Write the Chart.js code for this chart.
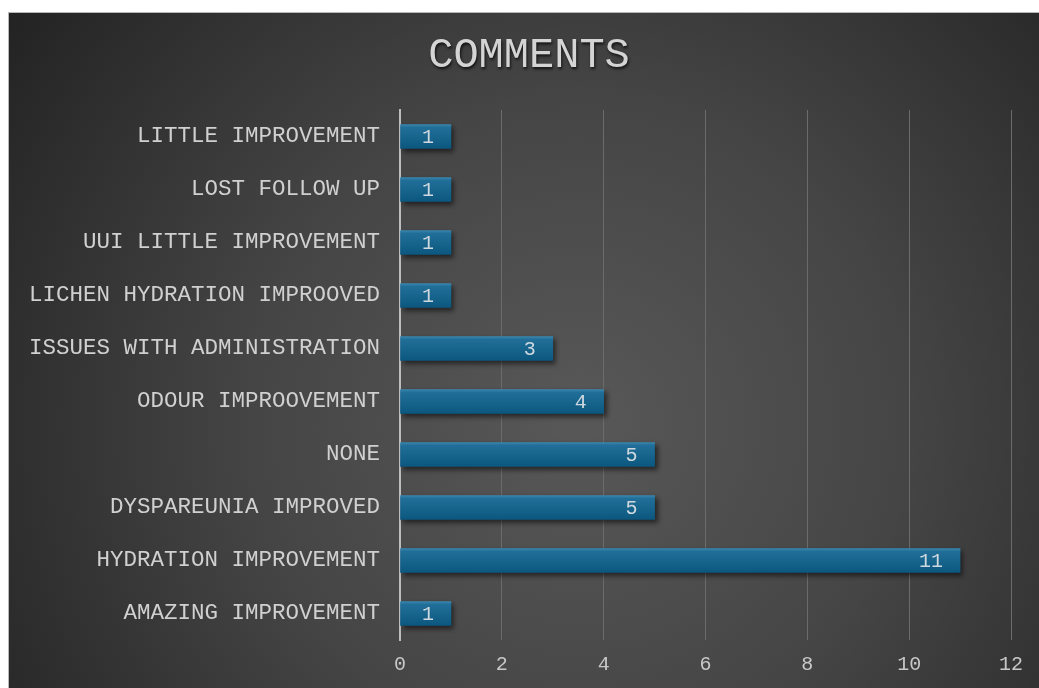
<!DOCTYPE html>
<html>
<head>
<meta charset="utf-8">
<script src="https://cdn.jsdelivr.net/npm/chart.js@4.4.1/dist/chart.umd.min.js"></script>
<style>
  html, body { margin: 0; padding: 0; background: #fff; }
  #wrap {
    position: absolute; left: 8px; top: 12px;
    width: 1031px; height: 676px;
    border-top: 1px solid #b8b8b8; border-left: 1px solid #b8b8b8;
    box-sizing: border-box;
  }
</style>
</head>
<body>
<div id="wrap"><canvas id="commentsChart"></canvas></div>
<script>
// data (top to bottom)
const categories = [
  'LITTLE IMPROVEMENT',
  'LOST FOLLOW UP',
  'UUI LITTLE IMPROVEMENT',
  'LICHEN HYDRATION IMPROOVED',
  'ISSUES WITH ADMINISTRATION',
  'ODOUR IMPROOVEMENT',
  'NONE',
  'DYSPAREUNIA IMPROVED',
  'HYDRATION IMPROVEMENT',
  'AMAZING IMPROVEMENT'
];
const counts = [1, 1, 1, 1, 3, 4, 5, 5, 11, 1];
const titleText = 'COMMENTS';

const MONO = '"Liberation Mono", "Courier New", monospace';
const BAR_H = 24;

// dark radial background + title
const backdrop = {
  id: 'backdrop',
  beforeDraw(chart) {
    const { ctx, width, height } = chart;
    ctx.save();
    const g = ctx.createRadialGradient(570, 410, 20, 570, 410, 700);
    g.addColorStop(0, '#575757');
    g.addColorStop(0.45, '#454545');
    g.addColorStop(1, '#232323');
    ctx.fillStyle = g;
    ctx.fillRect(0, 0, width, height);

    ctx.font = '42px ' + MONO;
    ctx.textAlign = 'center';
    ctx.textBaseline = 'middle';
    ctx.shadowColor = 'rgba(0,0,0,0.75)';
    ctx.shadowOffsetX = 1;
    ctx.shadowOffsetY = 2;
    ctx.shadowBlur = 3;
    ctx.fillStyle = '#d4d4d4';
    ctx.fillText(titleText, 520, 43);
    ctx.restore();
  }
};

// soft shadow under the bars
const barShadow = {
  id: 'barShadow',
  beforeDatasetsDraw(chart) {
    const ctx = chart.ctx;
    ctx.save();
    ctx.shadowColor = 'rgba(0,0,0,0.55)';
    ctx.shadowOffsetX = 3;
    ctx.shadowOffsetY = 3;
    ctx.shadowBlur = 5;
  },
  afterDatasetsDraw(chart) {
    chart.ctx.restore();
  }
};

// value labels inside the end of each bar
const valueLabels = {
  id: 'valueLabels',
  afterDraw(chart) {
    const ctx = chart.ctx;
    const meta = chart.getDatasetMeta(0);
    ctx.save();
    ctx.font = '20px ' + MONO;
    ctx.textAlign = 'right';
    ctx.textBaseline = 'middle';
    ctx.fillStyle = '#cfd8de';
    meta.data.forEach((bar, i) => {
      ctx.fillText(String(counts[i]), bar.x - 17, bar.y + 1);
    });
    ctx.restore();
  }
};

function barFill(c) {
  const chart = c.chart;
  const y = chart.scales.y ? chart.scales.y.getPixelForValue(c.dataIndex) : null;
  if (y == null || isNaN(y)) return '#15648c';
  const g = chart.ctx.createLinearGradient(0, y - BAR_H / 2, 0, y + BAR_H / 2);
  g.addColorStop(0, '#3987b0');
  g.addColorStop(0.12, '#216f98');
  g.addColorStop(1, '#0b5780');
  return g;
}

new Chart(document.getElementById('commentsChart'), {
  type: 'bar',
  data: {
    labels: categories,
    datasets: [{
      label: 'Comments',
      data: counts,
      backgroundColor: barFill,
      borderWidth: 0,
      barThickness: BAR_H
    }]
  },
  options: {
    indexAxis: 'y',
    responsive: true,
    maintainAspectRatio: false,
    animation: false,
    layout: { padding: { top: 97, right: 28, bottom: 11, left: 0 } },
    scales: {
      x: {
        min: 0,
        max: 12,
        afterFit(scale) { scale.height = 37; },
        ticks: {
          stepSize: 2,
          padding: 13,
          color: '#c8c8c8',
          font: { family: MONO, size: 20 }
        },
        grid: { color: '#6b6b6b', lineWidth: 1, drawTicks: false },
        border: { display: false }
      },
      y: {
        afterFit(scale) { scale.width = 391; },
        ticks: {
          padding: 20,
          color: '#d0d0d0',
          font: { family: MONO, size: 22.5 }
        },
        grid: { display: false, drawTicks: false },
        border: { display: true, color: '#bdbdbd', width: 2 }
      }
    },
    plugins: {
      legend: { display: false },
      title: { display: false },
      tooltip: { enabled: false }
    }
  },
  plugins: [backdrop, barShadow, valueLabels]
});
</script>
</body>
</html>
